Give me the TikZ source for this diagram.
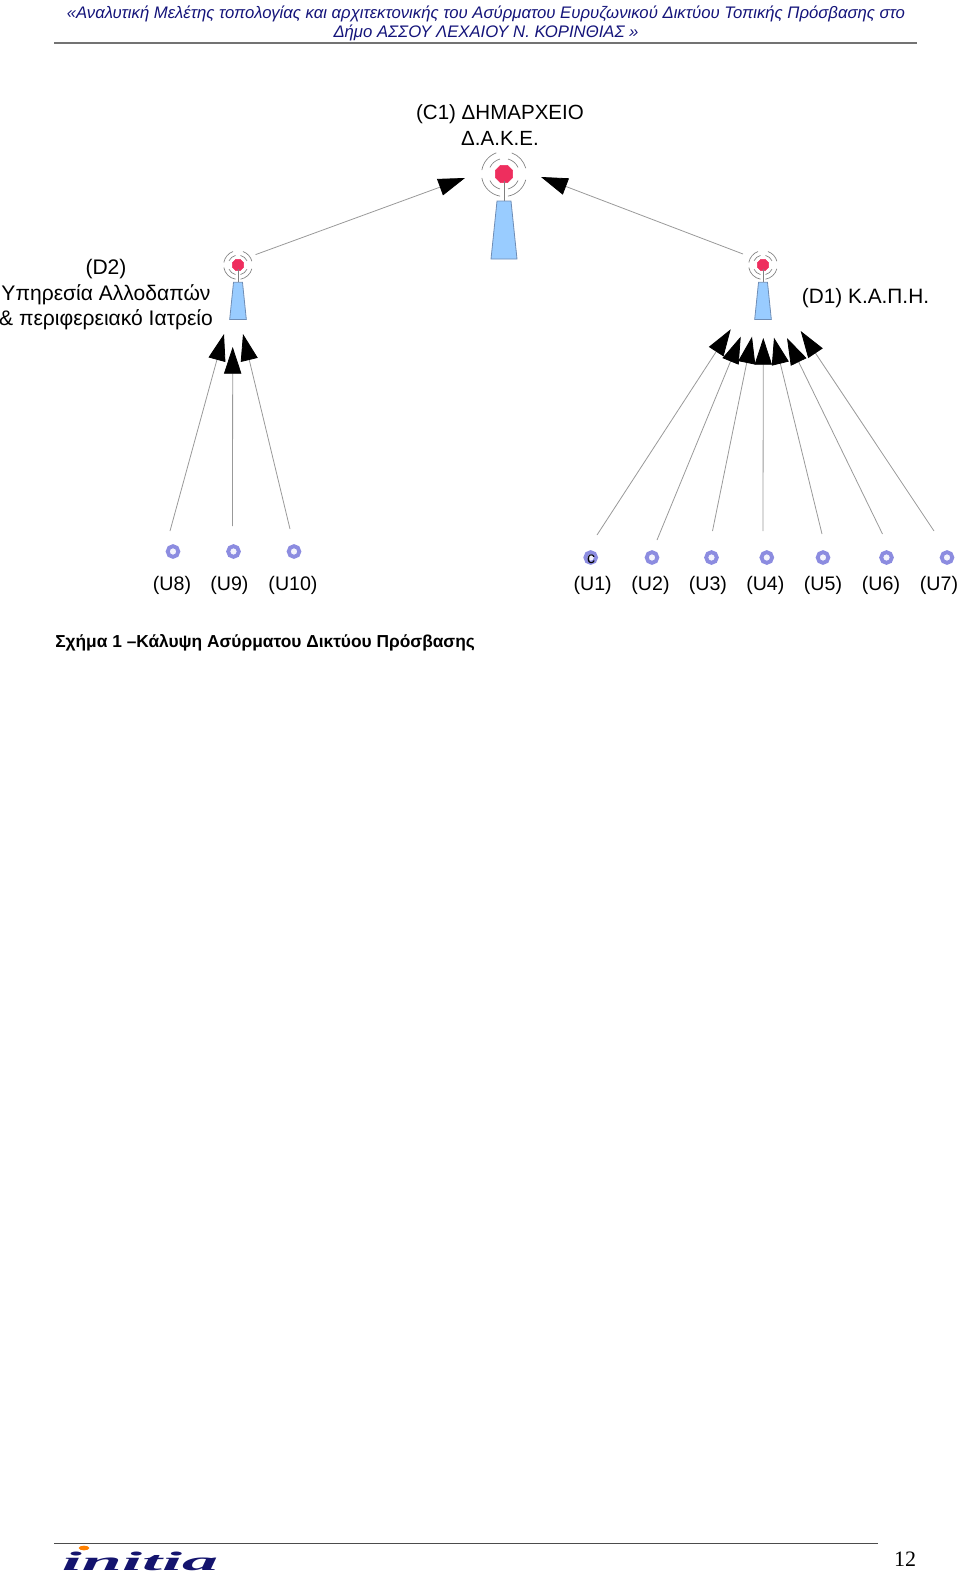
\documentclass[tikz,border=0pt]{standalone}
\usepackage{fontspec}
\setmainfont{Liberation Sans}
\newfontfamily\serifface{Liberation Serif}
\usetikzlibrary{positioning, arrows.meta, shapes.geometric}
\definecolor{headblue}{HTML}{14147A}
\definecolor{towerblue}{HTML}{99CCFF}
\definecolor{toweredge}{HTML}{6F8DB5}
\definecolor{beaconred}{HTML}{EE2E5E}
\definecolor{deviceblue}{HTML}{8C8CE0}
\definecolor{logoblue}{HTML}{14146E}

\begin{document}
\begin{tikzpicture}[x=0.75pt, y=-0.75pt,
      txt/.style={font=\fontsize{14.7}{19.1}\selectfont, align=center, inner sep=0pt},
      beacon/.style={regular polygon, regular polygon sides=8, draw=beaconred, fill=beaconred,
        inner sep=0pt, minimum size=14},
      device/.style={circle, draw=deviceblue, fill=deviceblue!10, line width=2.9pt,
        inner sep=0pt, minimum size=8pt},
      link/.style={draw=black!40, line width=0.6pt,
        -{Triangle[length=20pt, width=13pt, color=black]}},
      tower/.pic={
        \draw[black!50, line width=0.5pt] (0,7) -- (0,27);
        \draw[toweredge, fill=towerblue, line width=0.6pt] (-7,27) -- (7,27) -- (13,85) -- (-13,85) -- cycle;
        \draw[black!50, line width=0.5pt] (15:22.5) arc (15:80:22.5) (100:22.5) arc (100:170:22.5)
          (190:22.5) arc (190:250:22.5) (290:22.5) arc (290:345:22.5);
        \draw[black!50, line width=0.5pt] (25:15.5) arc (25:75:15.5) (105:15.5) arc (105:155:15.5)
          (205:15.5) arc (205:255:15.5) (285:15.5) arc (285:335:15.5);
      }]
    \useasboundingbox (0,0) rectangle (960,1578);

    % page head
    \node[font=\fontsize{12.53}{14.2}\selectfont\itshape, text=headblue, align=center, inner sep=0pt] (head) at (486,23) {%
      «Αναλυτική Μελέτης τοπολογίας και αρχιτεκτονικής του Ασύρματου Ευρυζωνικού Δικτύου Τοπικής Πρόσβασης στο\\
      Δήμο ΑΣΣΟΥ ΛΕΧΑΙΟΥ Ν. ΚΟΡΙΝΘΙΑΣ »};
    \coordinate (headl) at (54,43);
    \coordinate (headr) at (917,43);
    \draw[black!55, line width=1pt] (headl) -- (headr);

    % top station
    \node[beacon] (c1) at (504,174) {};
    \pic at (c1) {tower};
    \node[txt, font=\fontsize{15.4}{19.1}\selectfont] (c1text) at (500,125) {(C1) ΔΗΜΑΡΧΕΙΟ\\Δ.Α.Κ.Ε.};

    % middle stations
    \node[beacon, minimum size=9] (d2) at (238,265) {};
    \pic[scale=0.64] at (d2) {tower};
    \node[txt, font=\fontsize{15.8}{19.1}\selectfont] (d2text) at (106,295) {(D2)\\Υπηρεσία Αλλοδαπών\\\& περιφερειακό Ιατρείο};
    \node[beacon, minimum size=9] (d1) at (763,265) {};
    \pic[scale=0.64] at (d1) {tower};
    \node[txt, font=\fontsize{15.6}{19.1}\selectfont] (d1text) at (865.5,298.5) {(D1) Κ.Α.Π.Η.};

    \draw[link] ([shift={(17.6,-10.4)}]d2.center) -- ([shift={(-39,4)}]c1.center);
    \draw[link] ([shift={(-20,-11)}]d1.center) -- ([shift={(37,3)}]c1.center);

    % users
    \node[device] (u8) at (173,551.5) {};
    \node[device] (u9) at (233.5,551.5) {};
    \node[device] (u10) at (294,551.5) {};
    \node[device] (u1) at (590.7,557.5) {};
    \node[device] (u2) at (652,557.5) {};
    \node[device] (u3) at (711.5,557.5) {};
    \node[device] (u4) at (766.8,557.5) {};
    \node[device] (u5) at (823,557.5) {};
    \node[device] (u6) at (886.5,557.5) {};
    \node[device] (u7) at (947,557.5) {};
    \node[font=\fontsize{12}{12}\selectfont, inner sep=0pt] (u1c) at (591,559) {c};

    \node[txt] (u8text) at (172,585.6) {(U8)};
    \node[txt] (u9text) at (229.4,585.6) {(U9)};
    \node[txt] (u10text) at (293,585.6) {(U10)};
    \node[txt] (u1text) at (592.7,585.6) {(U1)};
    \node[txt] (u2text) at (650.5,585.6) {(U2)};
    \node[txt] (u3text) at (707.9,585.6) {(U3)};
    \node[txt] (u4text) at (765.3,585.6) {(U4)};
    \node[txt] (u5text) at (823,585.6) {(U5)};
    \node[txt] (u6text) at (881,585.6) {(U6)};
    \node[txt] (u7text) at (939,585.6) {(U7)};

    \draw[link] ([shift={(-3,-20.5)}]u8.center) -- ([shift={(-14,69)}]d2.center);
    \draw[link] ([shift={(-1,-25.5)}]u9.center) -- ([shift={(-5.3,82)}]d2.center);
    \draw[link] ([shift={(-4,-22.5)}]u10.center) -- ([shift={(5,69)}]d2.center);
    \draw[link] ([shift={(6.3,-22.5)}]u1.center) -- ([shift={(-32.3,64.3)}]d1.center);
    \draw[link] ([shift={(5,-17.5)}]u2.center) -- ([shift={(-22.3,71.7)}]d1.center);
    \draw[link] ([shift={(1,-26.5)}]u3.center) -- ([shift={(-11,71.7)}]d1.center);
    \draw[link] ([shift={(-3.8,-26.5)}]u4.center) -- ([shift={(0.3,73)}]d1.center);
    \draw[link] ([shift={(-1,-23.5)}]u5.center) -- ([shift={(11,72.7)}]d1.center);
    \draw[link] ([shift={(-4,-23.5)}]u6.center) -- ([shift={(24,73)}]d1.center);
    \draw[link] ([shift={(-13,-26.5)}]u7.center) -- ([shift={(37.7,66)}]d1.center);

    % caption
    \node[font=\fontsize{13}{14}\selectfont\bfseries, anchor=west, inner sep=0pt] (caption) at (55,643) {Σχήμα 1 –Κάλυψη Ασύρματου Δικτύου Πρόσβασης};

    % page foot
    \coordinate (footl) at (54,1543);
    \coordinate (footr) at (878,1543);
    \draw[black!70, line width=0.7pt] (footl) -- (footr);
    \node[font=\serifface\fontsize{16.5}{16.5}\selectfont, inner sep=0pt] (pageno) at (905,1559) {12};
    \node[font=\serifface\fontsize{20}{20}\selectfont\bfseries\itshape, text=logoblue, xscale=2.7, inner sep=0pt] (logo) at (140,1561) {initia};
    \node[ellipse, fill=orange, inner sep=0pt, minimum width=8pt, minimum height=3.5pt] (logodot) at (84,1548) {};
\end{tikzpicture}
\end{document}
